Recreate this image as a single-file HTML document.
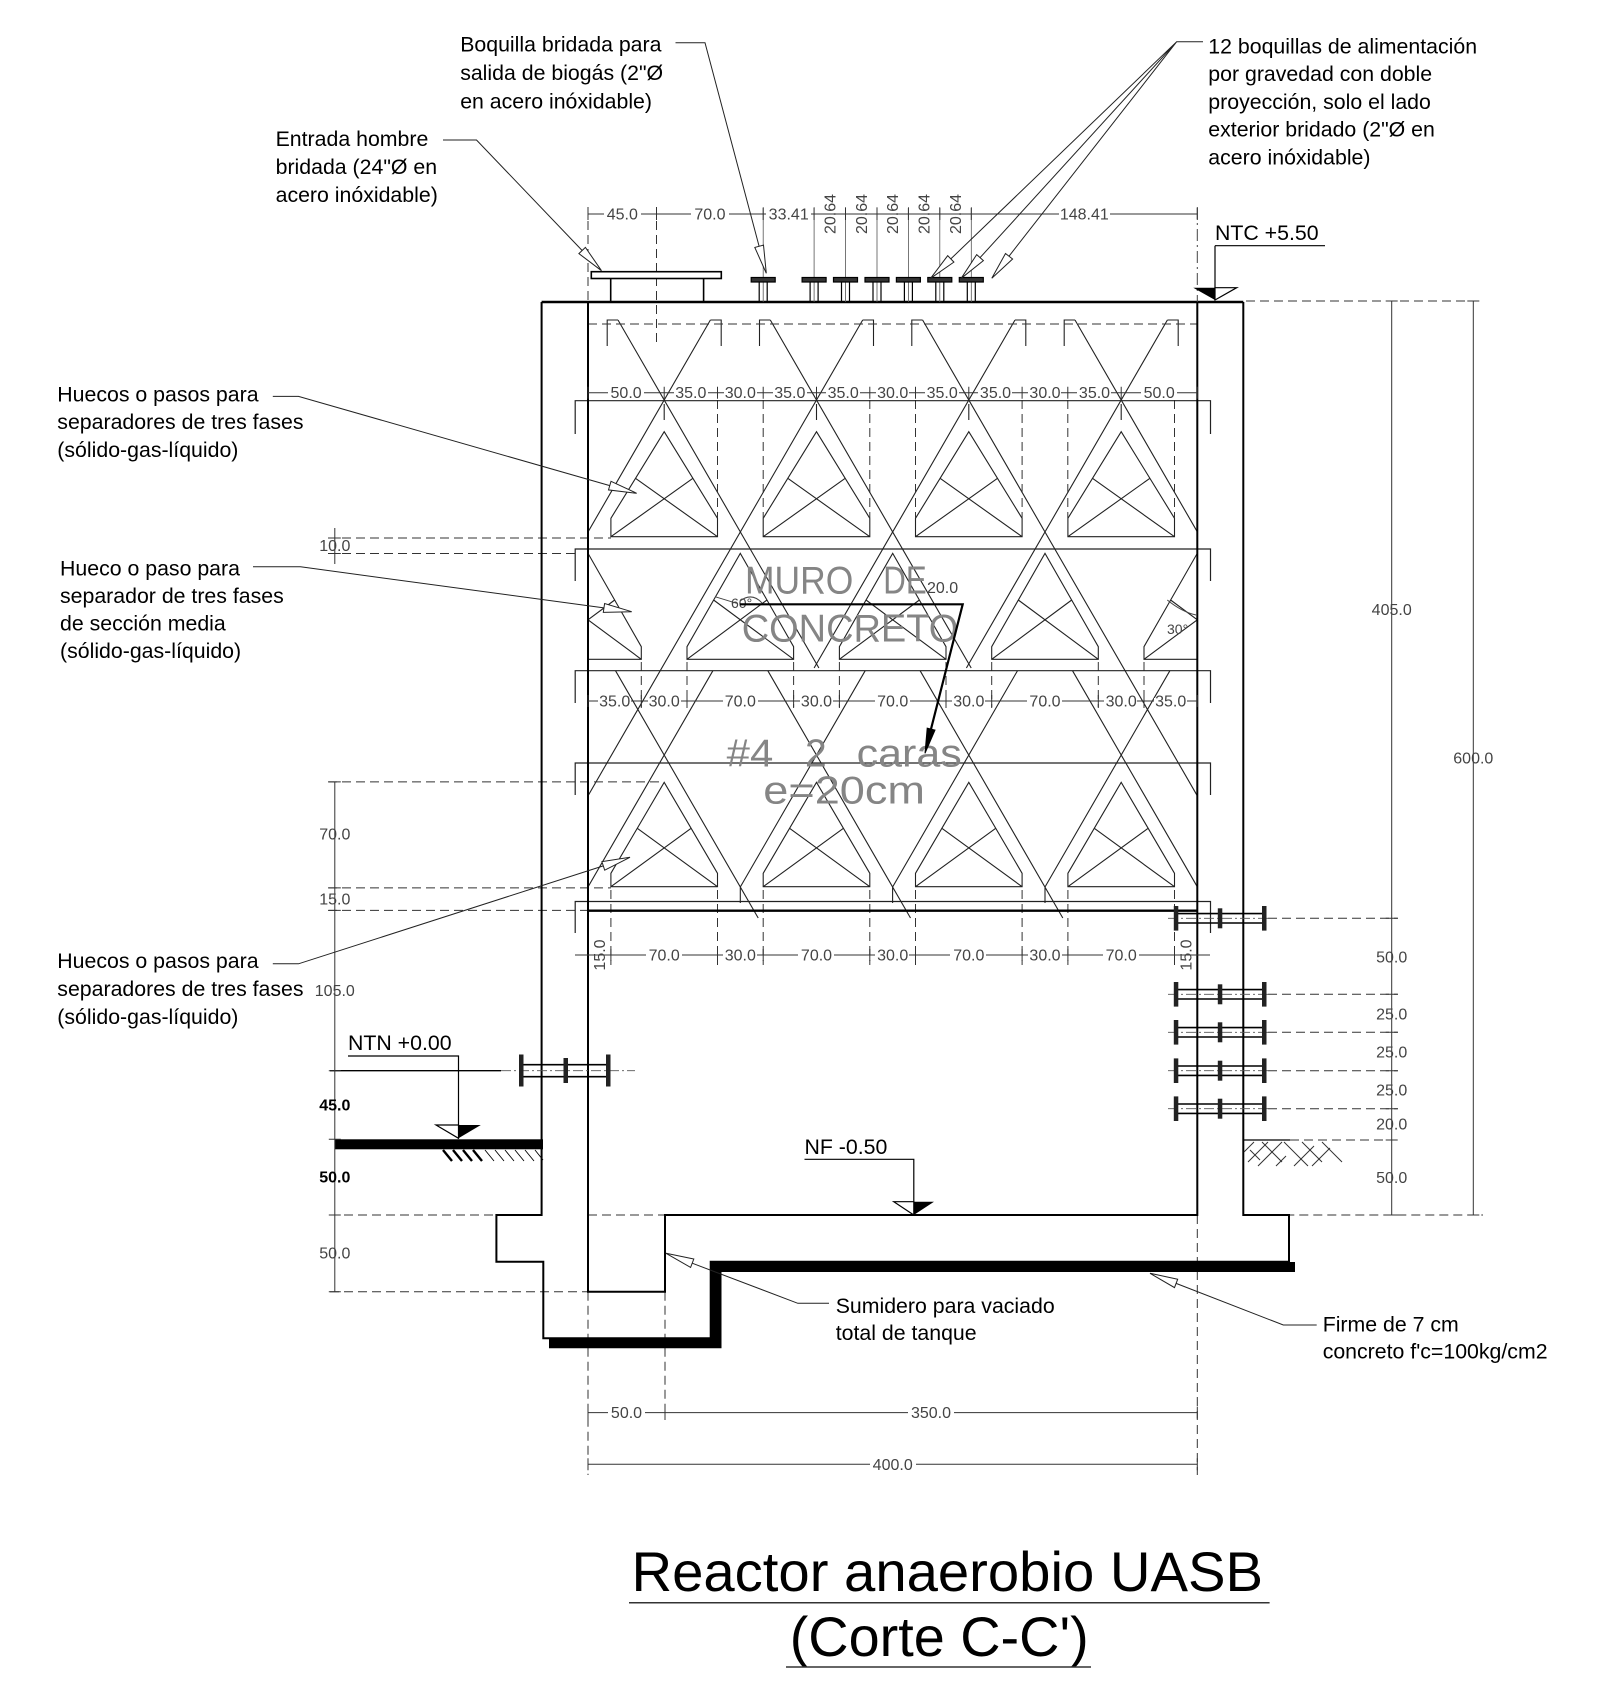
<!DOCTYPE html>
<html><head><meta charset="utf-8"><style>
html,body{margin:0;padding:0;background:#fff;}
svg{display:block;}
.l{font-family:"Liberation Sans",Arial,sans-serif;font-size:21.3px;fill:#000;}
.d{font-family:"Liberation Sans",Arial,sans-serif;font-size:16px;fill:#444;}
.db{font-family:"Liberation Sans",Arial,sans-serif;font-size:16px;fill:#000;font-weight:bold;}
.g{font-family:"Liberation Sans",Arial,sans-serif;font-size:39px;fill:#858585;}
.t{font-family:"Liberation Sans",Arial,sans-serif;font-size:56px;fill:#000;}
</style></head><body>
<svg width="1600" height="1689" viewBox="0 0 1600 1689" xmlns="http://www.w3.org/2000/svg">
<rect x="0" y="0" width="1600" height="1689" fill="#fff"/>
<defs><clipPath id="c"><rect x="588" y="300" width="609.3" height="630"/></clipPath></defs>

<!-- separators (clipped) -->
<g clip-path="url(#c)" fill="none" stroke="#222" stroke-width="1.1">
<!-- lattice -->
<path d="M618,320 L818.9,668 M710.4,320 L588,532 M770.3,320 L971.2,668 M862.7,320 L588,795.8 M922.6,320 L1197.3,795.8 M1015,320 L814.1,668 M1075,320 L1197.3,531.8 M1167.4,320 L966.4,668"/>
<path d="M618,320 H607.2 V346 M710.4,320 H721.2 V346 M770.3,320 H759.5 V346 M862.7,320 H873.5 V346 M922.6,320 H911.8 V346 M1015,320 H1025.8 V346 M1075,320 H1064.2 V346 M1167.4,320 H1178.2 V346"/>
<path d="M615.5,670.7 L758.2,918 M712.9,670.7 L588,887 M767.8,670.7 L910.5,918 M865.2,670.7 L740.3,887 V903 M920.1,670.7 L1062.8,918 M1017.5,670.7 L892.6,887 V903 M1072.5,670.7 L1197.3,886.8 M1169.9,670.7 L1045,887 V903"/>
<!-- row 1 -->
<path d="M610.9,536.7 V518.3 L664.2,431.7 L717.5,518.3 V536.7 Z M610.9,536.7 L692.9,478.3 M717.5,536.7 L635.5,478.3"/>
<path d="M763.2,536.7 V518.3 L816.5,431.7 L869.8,518.3 V536.7 Z M763.2,536.7 L845.2,478.3 M869.8,536.7 L787.8,478.3"/>
<path d="M915.5,536.7 V518.3 L968.8,431.7 L1022.1,518.3 V536.7 Z M915.5,536.7 L997.5,478.3 M1022.1,536.7 L940.1,478.3"/>
<path d="M1067.9,536.7 V518.3 L1121.2,431.7 L1174.5,518.3 V536.7 Z M1067.9,536.7 L1149.9,478.3 M1174.5,536.7 L1092.5,478.3"/>
<!-- row 2 -->
<path d="M534.7,659.3 V646.7 L588,553.3 L641.3,646.7 V659.3 Z M534.7,659.3 L614.7,600 M641.3,659.3 L561.3,600"/>
<path d="M687,659.3 V646.7 L740.3,553.3 L793.6,646.7 V659.3 Z M687,659.3 L767,600 M793.6,659.3 L713.6,600"/>
<path d="M839.4,659.3 V646.7 L892.7,553.3 L946,646.7 V659.3 Z M839.4,659.3 L919.4,600 M946,659.3 L866,600"/>
<path d="M991.7,659.3 V646.7 L1045,553.3 L1098.3,646.7 V659.3 Z M991.7,659.3 L1071.7,600 M1098.3,659.3 L1018.3,600"/>
<path d="M1144,659.3 V646.7 L1197.3,553.3 L1250.6,646.7 V659.3 Z M1144,659.3 L1224,600 M1250.6,659.3 L1170.6,600"/>
<!-- row 3 -->
<path d="M610.9,886.7 V873.3 L664.2,782.3 L717.5,873.3 V886.7 Z M610.9,886.7 L691.1,828.3 M717.5,886.7 L637.3,828.3"/>
<path d="M763.2,886.7 V873.3 L816.5,782.3 L869.8,873.3 V886.7 Z M763.2,886.7 L843.4,828.3 M869.8,886.7 L789.6,828.3"/>
<path d="M915.5,886.7 V873.3 L968.8,782.3 L1022.1,873.3 V886.7 Z M915.5,886.7 L995.7,828.3 M1022.1,886.7 L941.9,828.3"/>
<path d="M1067.9,886.7 V873.3 L1121.2,782.3 L1174.5,873.3 V886.7 Z M1067.9,886.7 L1148.1,828.3 M1174.5,886.7 L1094.3,828.3"/>
<!-- short verticals -->
<path d="M664.2,404 V420 M816.5,404 V420 M968.8,404 V420 M1121.2,404 V420"/>
</g>

<!-- dashed verticals row 1 / extension lines -->
<g fill="none" stroke="#333" stroke-width="1" stroke-dasharray="9 5">
<path d="M717.5,400 V518 M763.2,400 V518 M869.8,400 V518 M915.5,400 V518 M1022.1,400 V518 M1067.8,400 V518 M1174.5,400 V518"/>
<path d="M641.3,662 V708 M687,662 V708 M793.6,662 V708 M839.4,662 V708 M946,662 V708 M991.7,662 V708 M1098.3,662 V708 M1144,662 V708"/>
<path d="M610.9,890 V965 M717.5,890 V965 M763.2,890 V965 M869.8,890 V965 M915.5,890 V965 M1022.1,890 V965 M1067.9,890 V965 M1174.5,890 V965"/>
<path d="M588,324 H1197.3"/>
<path d="M328,538 H611 M328,553.5 H575 M328,781.9 H664 M328,887.9 H611 M328,910.4 H588 M330,1215 H541.6 M330,1291.7 H588"/>
<path d="M1246,301 H1483 M1268,918.3 H1398 M1268,994.3 H1398 M1268,1032.3 H1398 M1268,1070.7 H1398 M1268,1108.7 H1398 M1290,1140 H1398 M1243.3,1215 H1483 M588,1215 H665"/>
<path d="M588,1291.7 V1475 M665,1291.7 V1420 M1197.3,1215 V1475"/>
<path d="M588,207 V322 M656.5,207 V345"/>
</g>

<!-- row horizontal lines with end ticks -->
<g fill="none" stroke="#222" stroke-width="1.2">
<path d="M575.2,434 V400.7 H1210.5 V434"/>
<path d="M575.2,581 V549 H1210.5 V581"/>
<path d="M575.2,703 V670.7 H1210.5 V703"/>
<path d="M575.2,795 V763 H1210.5 V795"/>
<path d="M575.2,933 V901.5 H1210.5 V933"/>
</g>
<path d="M588,910.7 H1197.3" stroke="#000" stroke-width="2.4"/>

<!-- structure -->
<g fill="none" stroke="#000" stroke-width="2">
<path d="M541.6,302 V1215 H496.4 V1261.7 H543.3 V1338.3 H710.7 V1261.7 H1289 V1215 H1243.3 V302"/>
<path d="M588,302 V1291.7 H665 V1215 H1197.3 V302"/>
<path d="M541.6,302 H1243.3" stroke-width="2.6"/>
</g>
<!-- firme -->
<path d="M549,1343.2 H716.5 V1267 H1295" fill="none" stroke="#000" stroke-width="10" stroke-linejoin="miter"/>

<!-- manhole -->
<g fill="none" stroke="#000" stroke-width="1.6">
<rect x="591.3" y="271.7" width="130" height="6.8" fill="#fff"/>
<path d="M610.7,278.5 V302 M703.6,278.5 V302"/>
</g>
<!-- top nozzles -->
<g stroke="#000" stroke-width="1.2">
<path d="M763.2,207 V302 M814.1,207 V302 M845.5,207 V302 M877,207 V302 M908.4,207 V302 M939.8,207 V302 M971.3,207 V302" stroke="#555" stroke-width="0.8"/>
<path d="M759.2,282 V302 M767.2,282 V302 M810.1,282 V302 M818.1,282 V302 M841.5,282 V302 M849.5,282 V302 M873,282 V302 M881,282 V302 M904.4,282 V302 M912.4,282 V302 M935.8,282 V302 M943.8,282 V302 M967.3,282 V302 M975.3,282 V302" fill="none"/>
<g fill="#333">
<rect x="751.2" y="277.5" width="24" height="4.5"/>
<rect x="802.1" y="277.5" width="24" height="4.5"/>
<rect x="833.5" y="277.5" width="24" height="4.5"/>
<rect x="865" y="277.5" width="24" height="4.5"/>
<rect x="896.4" y="277.5" width="24" height="4.5"/>
<rect x="927.8" y="277.5" width="24" height="4.5"/>
<rect x="959.3" y="277.5" width="24" height="4.5"/>
</g>
</g>
<path d="M1197.3,207 V302" stroke="#444" stroke-width="1" stroke-dasharray="12 4 2 4"/>

<!-- pipes -->
<g stroke="#000" stroke-width="1.6" fill="none">
<path d="M1176,913.6 H1264.3 M1176,923 H1264.3 M1176,989.6 H1264.3 M1176,999 H1264.3 M1176,1027.6 H1264.3 M1176,1037 H1264.3 M1176,1066 H1264.3 M1176,1075.4 H1264.3 M1176,1104 H1264.3 M1176,1113.4 H1264.3"/>
<path d="M521,1064.7 H608 M521,1076.7 H608"/>
</g>
<g stroke="#555" stroke-width="0.9" stroke-dasharray="10 3 2 3" fill="none">
<path d="M1168,918.3 H1270 M1168,994.3 H1270 M1168,1032.3 H1270 M1168,1070.7 H1270 M1168,1108.7 H1270 M501,1070.7 H635"/>
</g>
<g fill="#222">
<rect x="1173.8" y="906" width="4.5" height="24.6"/><rect x="1217.8" y="908.3" width="4.5" height="20"/><rect x="1262" y="906" width="4.5" height="24.6"/>
<rect x="1173.8" y="982" width="4.5" height="24.6"/><rect x="1217.8" y="984.3" width="4.5" height="20"/><rect x="1262" y="982" width="4.5" height="24.6"/>
<rect x="1173.8" y="1020" width="4.5" height="24.6"/><rect x="1217.8" y="1022.3" width="4.5" height="20"/><rect x="1262" y="1020" width="4.5" height="24.6"/>
<rect x="1173.8" y="1058.4" width="4.5" height="24.6"/><rect x="1217.8" y="1060.7" width="4.5" height="20"/><rect x="1262" y="1058.4" width="4.5" height="24.6"/>
<rect x="1173.8" y="1096.4" width="4.5" height="24.6"/><rect x="1217.8" y="1098.7" width="4.5" height="20"/><rect x="1262" y="1096.4" width="4.5" height="24.6"/>
<rect x="519" y="1054.5" width="4.5" height="32"/><rect x="563.5" y="1058" width="4.5" height="25"/><rect x="606" y="1054.5" width="4.5" height="32"/>
</g>

<!-- ground left -->
<path d="M330,1070.7 H501" stroke="#000" stroke-width="1.3"/>
<rect x="335" y="1139.3" width="208" height="10" fill="#000"/>
<g stroke="#000" fill="none">
<path d="M443,1150 l9,11 M453,1150 l9,11 M463,1150 l9,11 M473,1150 l9,11" stroke-width="2.4"/>
<path d="M485,1150 l9,11 M495,1150 l9,11 M505,1150 l9,11 M515,1150 l9,11 M525,1150 l9,11 M535,1150 l8,10" stroke-width="0.9"/>
</g>
<!-- ground right -->
<path d="M1243.3,1140 H1290" stroke="#000" stroke-width="1.2"/>
<g stroke="#333" stroke-width="1" fill="none">
<path d="M1244,1152 l10,-10 M1248,1162 l20,-20 M1258,1166 l24,-24 M1276,1166 l10,-10 M1294,1166 l20,-20 M1312,1166 l18,-18"/>
<path d="M1262,1142 l20,20 M1284,1142 l24,24 M1302,1142 l20,20 M1322,1142 l20,20 M1250,1150 l10,10"/>
</g>

<!-- level markers -->
<g stroke="#000" stroke-width="1.2" fill="none">
<path d="M1215,245.7 H1325 M1215,245.7 V300"/>
<path d="M348,1056 H458.5 V1138.3"/>
<path d="M804.5,1159.3 H913.8 V1215"/>
</g>
<polygon points="1193.3,287.7 1215,287.7 1215,300" fill="#000"/>
<polygon points="1215,287.7 1236.7,287.7 1215,300" fill="#fff" stroke="#000" stroke-width="1.2"/>
<polygon points="436,1125 458.5,1125 458.5,1138.3" fill="#fff" stroke="#000" stroke-width="1.2"/>
<polygon points="458.5,1125 480.8,1125 458.5,1138.3" fill="#000"/>
<polygon points="893.8,1201.7 913.8,1201.7 913.8,1215" fill="#fff" stroke="#000" stroke-width="1.2"/>
<polygon points="913.8,1201.7 934,1201.7 913.8,1215" fill="#000"/>

<!-- dimension lines -->
<g stroke="#333" stroke-width="1" fill="none">
<path d="M588,214 H1197.3"/>
<path d="M588,208 V220 M656.5,208 V220 M763.2,208 V220 M814.1,208 V220 M845.5,208 V220 M877,208 V220 M908.4,208 V220 M939.8,208 V220 M971.3,208 V220 M1197.3,208 V220"/>
<path d="M588,392.7 H1197.3"/>
<path d="M588,386.7 V398.7 M664.2,386.7 V398.7 M717.5,386.7 V398.7 M763.2,386.7 V398.7 M816.5,386.7 V398.7 M869.8,386.7 V398.7 M915.5,386.7 V398.7 M968.8,386.7 V398.7 M1022.1,386.7 V398.7 M1067.8,386.7 V398.7 M1121.2,386.7 V398.7 M1197.3,386.7 V398.7"/>
<path d="M588,701 H1197.3"/>
<path d="M588,695 V707 M641.3,695 V707 M687,695 V707 M793.6,695 V707 M839.4,695 V707 M946,695 V707 M991.7,695 V707 M1098.3,695 V707 M1144,695 V707 M1197.3,695 V707"/>
<path d="M575,955 H1210"/>
<path d="M610.9,949 V961 M717.5,949 V961 M763.2,949 V961 M869.8,949 V961 M915.5,949 V961 M1022.1,949 V961 M1067.9,949 V961 M1174.5,949 V961"/>
<path d="M588,1412.6 H1197.3 M588,1406.6 V1418.6 M665,1406.6 V1418.6 M1197.3,1406.6 V1418.6"/>
<path d="M588,1464.3 H1197.3 M588,1458.3 V1470.3 M1197.3,1458.3 V1470.3"/>
<path d="M1391.7,301 V1215 M1385.7,301 H1397.7 M1385.7,918.3 H1397.7 M1385.7,994.3 H1397.7 M1385.7,1032.3 H1397.7 M1385.7,1070.7 H1397.7 M1385.7,1108.7 H1397.7 M1385.7,1140 H1397.7 M1385.7,1215 H1397.7"/>
<path d="M1473.3,301 V1215 M1467.3,301 H1479.3 M1467.3,1215 H1479.3"/>
<path d="M334.8,781.9 V1291.7 M328.8,781.9 H340.8 M328.8,887.9 H340.8 M328.8,910.4 H340.8 M328.8,1070.7 H340.8 M328.8,1139.3 H340.8 M328.8,1215 H340.8 M328.8,1291.7 H340.8"/>
<path d="M334.8,528 V564 M328.8,538 H340.8 M328.8,553.5 H340.8"/>
</g>
<!-- gaps behind dim text -->
<g fill="#fff">
<rect x="604" y="211" width="37" height="6"/><rect x="691" y="211" width="38" height="6"/><rect x="766" y="211" width="45" height="6"/><rect x="1059" y="211" width="51" height="6"/>
<rect x="608" y="390" width="36" height="5"/><rect x="674" y="390" width="34" height="5"/><rect x="724" y="390" width="33" height="5"/><rect x="773" y="390" width="34" height="5"/><rect x="826" y="390" width="34" height="5"/><rect x="876" y="390" width="33" height="5"/><rect x="925" y="390" width="34" height="5"/><rect x="978" y="390" width="34" height="5"/><rect x="1028" y="390" width="33" height="5"/><rect x="1077" y="390" width="34" height="5"/><rect x="1141" y="390" width="36" height="5"/>
<rect x="598" y="698" width="33" height="5"/><rect x="648" y="698" width="33" height="5"/><rect x="723" y="698" width="35" height="5"/><rect x="800" y="698" width="33" height="5"/><rect x="875" y="698" width="35" height="5"/><rect x="952" y="698" width="33" height="5"/><rect x="1027" y="698" width="35" height="5"/><rect x="1104" y="698" width="33" height="5"/><rect x="1154" y="698" width="33" height="5"/>
<rect x="646" y="952" width="36" height="5"/><rect x="723" y="952" width="34" height="5"/><rect x="798" y="952" width="36" height="5"/><rect x="875" y="952" width="34" height="5"/><rect x="950" y="952" width="36" height="5"/><rect x="1028" y="952" width="34" height="5"/><rect x="1103" y="952" width="36" height="5"/>
<rect x="608" y="1410" width="37" height="5"/><rect x="908" y="1410" width="46" height="5"/><rect x="870" y="1462" width="46" height="5"/>
</g>

<!-- dim texts -->
<g class="d" text-anchor="middle">
<text x="622.3" y="219.5">45.0</text><text x="709.9" y="219.5">70.0</text><text x="788.7" y="219.5">33.41</text><text x="1084.3" y="219.5">148.41</text>
<text transform="translate(835.3,214) rotate(-90)">20.64</text>
<text transform="translate(866.8,214) rotate(-90)">20.64</text>
<text transform="translate(898.2,214) rotate(-90)">20.64</text>
<text transform="translate(929.6,214) rotate(-90)">20.64</text>
<text transform="translate(961.1,214) rotate(-90)">20.64</text>
<text x="626.1" y="398.2">50.0</text><text x="690.8" y="398.2">35.0</text><text x="740.3" y="398.2">30.0</text><text x="789.8" y="398.2">35.0</text><text x="843.2" y="398.2">35.0</text><text x="892.7" y="398.2">30.0</text><text x="942.2" y="398.2">35.0</text><text x="995.5" y="398.2">35.0</text><text x="1045" y="398.2">30.0</text><text x="1094.5" y="398.2">35.0</text><text x="1159.2" y="398.2">50.0</text>
<text x="614.7" y="706.5">35.0</text><text x="664.2" y="706.5">30.0</text><text x="740.3" y="706.5">70.0</text><text x="816.5" y="706.5">30.0</text><text x="892.7" y="706.5">70.0</text><text x="968.8" y="706.5">30.0</text><text x="1045" y="706.5">70.0</text><text x="1121.2" y="706.5">30.0</text><text x="1170.7" y="706.5">35.0</text>
<text transform="translate(604.9,955) rotate(-90)">15.0</text>
<text x="664.2" y="960.5">70.0</text><text x="740.3" y="960.5">30.0</text><text x="816.5" y="960.5">70.0</text><text x="892.7" y="960.5">30.0</text><text x="968.8" y="960.5">70.0</text><text x="1045" y="960.5">30.0</text><text x="1121.2" y="960.5">70.0</text>
<text transform="translate(1191.5,955) rotate(-90)">15.0</text>
<text x="626.5" y="1418">50.0</text><text x="931" y="1418">350.0</text><text x="892.7" y="1470">400.0</text>
<text x="1391.7" y="615">405.0</text><text x="1391.7" y="962.5">50.0</text><text x="1391.7" y="1019.5">25.0</text><text x="1391.7" y="1057.5">25.0</text><text x="1391.7" y="1095.5">25.0</text><text x="1391.7" y="1129.5">20.0</text><text x="1391.7" y="1183">50.0</text>
<text x="1473.3" y="763.5">600.0</text>
<text x="334.8" y="551">10.0</text><text x="334.8" y="839.5">70.0</text><text x="334.8" y="904.5">15.0</text><text x="334.8" y="996">105.0</text><text x="334.8" y="1258.5">50.0</text>
</g>
<g class="db" text-anchor="middle"><text x="334.8" y="1110.5">45.0</text><text x="334.8" y="1182.5">50.0</text></g>

<!-- wall annotation text -->
<text class="g" x="745" y="593.3" textLength="108.3" lengthAdjust="spacingAndGlyphs">MURO</text>
<text class="g" x="883.3" y="593.3" textLength="43.4" lengthAdjust="spacingAndGlyphs">DE</text>
<text class="g" x="741.7" y="641.7" textLength="216.6" lengthAdjust="spacingAndGlyphs">CONCRETO</text>
<text class="g" x="726.7" y="766.7" textLength="46.6" lengthAdjust="spacingAndGlyphs">#4</text>
<text class="g" x="805" y="766.7" textLength="21.7" lengthAdjust="spacingAndGlyphs">2</text>
<text class="g" x="856.7" y="766.7" textLength="105" lengthAdjust="spacingAndGlyphs">caras</text>
<text class="g" x="763.3" y="803.3" textLength="161.7" lengthAdjust="spacingAndGlyphs">e=20cm</text>
<text class="d" x="927" y="593">20.0</text>
<text class="d" x="731" y="608" style="font-size:14px">60°</text>
<text class="d" x="1167" y="634" style="font-size:14px">30°</text>
<path d="M715,596.7 L736.7,603.3 M740,601 Q752,592 762,603" fill="none" stroke="#444" stroke-width="1"/>
<path d="M1167.3,600 Q1182,612 1196,615" fill="none" stroke="#444" stroke-width="1"/>
<!-- rebar leader -->
<path d="M740,604.3 H962.7 L930,733" fill="none" stroke="#000" stroke-width="2.2"/>
<polygon points="925,753.3 935,730.1 927.2,728.1" fill="#000" stroke="#000" stroke-width="1"/>

<!-- leaders -->
<g fill="none" stroke="#222" stroke-width="1">
<path d="M443,140 H476.5 L582.15,250.47"/>
<path d="M675.5,42.7 H705 L759.1,246.2"/>
<path d="M1203,41.7 H1176.7 L950.8,258.9 M1176.7,41.7 L980.1,257.6 M1176.7,41.7 L1009,256.2"/>
<path d="M272.8,396.4 H298.5 L609.8,485.6"/>
<path d="M253,566.8 H300.5 L603.95,607.9"/>
<path d="M272.8,963.8 H298.5 L603.3,865.9"/>
<path d="M829,1303.3 H797.8 L692.2,1263.2"/>
<path d="M1316.7,1325 H1283.3 L1176.1,1283.4"/>
</g>
<g fill="#fff" stroke="#222" stroke-width="1">
<polygon points="601.5,270.7 585.4,247.4 578.9,253.6"/>
<polygon points="766.3,273.3 754.8,247.4 763.5,245.1"/>
<polygon points="930.6,278.3 947.7,255.7 953.9,262.1"/>
<polygon points="961.2,278.3 976.7,254.6 983.4,260.6"/>
<polygon points="991.8,278.3 1005.5,253.5 1012.6,259"/>
<polygon points="636.7,493.3 608.5,489.9 611,481.3"/>
<polygon points="631.7,611.7 603.3,612.4 604.6,603.5"/>
<polygon points="630,857.3 604.7,870.2 601.9,861.6"/>
<polygon points="666,1253.3 693.8,1259 690.6,1267.4"/>
<polygon points="1150,1273.3 1177.7,1279.2 1174.5,1287.6"/>
</g>

<!-- labels -->
<g class="l">
<text x="460.2" y="51.7">Boquilla bridada para</text>
<text x="460.2" y="80">salida de biogás (2&quot;Ø</text>
<text x="460.2" y="108.3">en acero inóxidable)</text>
<text x="275.6" y="146">Entrada hombre</text>
<text x="275.6" y="174">bridada (24&quot;Ø en</text>
<text x="275.6" y="202">acero inóxidable)</text>
<text x="1208.3" y="53.3">12 boquillas de alimentación</text>
<text x="1208.3" y="81">por gravedad con doble</text>
<text x="1208.3" y="109">proyección, solo el lado</text>
<text x="1208.3" y="136.7">exterior bridado (2&quot;Ø en</text>
<text x="1208.3" y="164.3">acero inóxidable)</text>
<text x="57.3" y="401.5">Huecos o pasos para</text>
<text x="57.3" y="429.2">separadores de tres fases</text>
<text x="57.3" y="456.9">(sólido-gas-líquido)</text>
<text x="60" y="575.5">Hueco o paso para</text>
<text x="60" y="603">separador de tres fases</text>
<text x="60" y="630.5">de sección media</text>
<text x="60" y="658">(sólido-gas-líquido)</text>
<text x="57.3" y="968">Huecos o pasos para</text>
<text x="57.3" y="996">separadores de tres fases</text>
<text x="57.3" y="1024">(sólido-gas-líquido)</text>
<text x="835.7" y="1313">Sumidero para vaciado</text>
<text x="835.7" y="1340">total de tanque</text>
<text x="1322.7" y="1331.7">Firme de 7 cm</text>
<text x="1322.7" y="1358.3">concreto f'c=100kg/cm2</text>
<text x="348" y="1050">NTN +0.00</text>
<text x="804.5" y="1154">NF -0.50</text>
<text x="1215" y="240">NTC +5.50</text>
</g>

<!-- title -->
<text class="t" x="631.5" y="1591" textLength="631.5" lengthAdjust="spacingAndGlyphs">Reactor anaerobio UASB</text>
<path d="M629,1602.7 H1269.6" stroke="#333" stroke-width="1.5"/>
<text class="t" x="789.7" y="1656" textLength="299" lengthAdjust="spacingAndGlyphs">(Corte C-C')</text>
<path d="M786,1667 H1091" stroke="#333" stroke-width="1.5"/>
</svg>
</body></html>
